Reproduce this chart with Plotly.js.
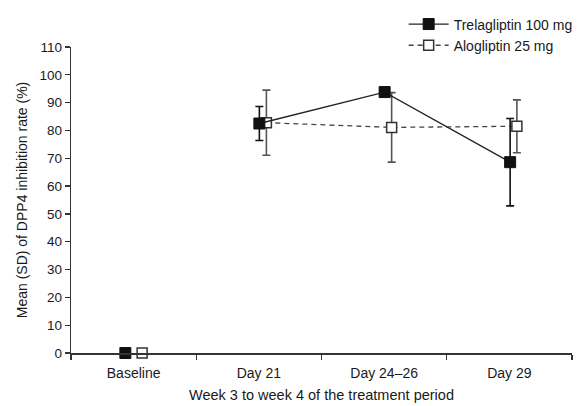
<!DOCTYPE html>
<html>
<head>
<meta charset="utf-8">
<script src="https://cdn.plot.ly/plotly-3.0.1.min.js"></script>
<style>html,body{margin:0;padding:0;background:#fff;}#chart{width:580px;height:406px;}</style>
</head>
<body>
<div id="chart"></div>
<script>
// ---- data ----
var categories = ["Baseline", "Day 21", "Day 24\u201326", "Day 29"];
var trelaName = "Trelagliptin 100 mg";
var trelaMean = [0, 82.5, 93.8, 68.6];
var trelaSD   = [0, 6.1, 1.5, 15.7];
var aloName = "Alogliptin 25 mg";
var aloMean = [0, 82.8, 81.1, 81.5];
var aloSD   = [0, 11.7, 12.5, 9.5];
var yTicks = [0, 10, 20, 30, 40, 50, 60, 70, 80, 90, 100, 110];

// ---- positions (style, not data) ----
var trelaOffset = [-0.066, 0.004, 0.004, 0.006];
var aloOffset   = [0.068, 0.06, 0.06, 0.06];
function xs(off, from) {
  var out = [];
  for (var i = from; i < categories.length; i++) out.push(i + off[i]);
  return out;
}

var font = "Liberation Sans, Arial, Helvetica, sans-serif";
var dark = "#1a1a1a";

var trelaMarker = {symbol: "square", size: 11, color: "#111", line: {color: "#111", width: 1}};
var aloMarker = {symbol: "square", size: 10, color: "#fff", line: {color: "#333", width: 1.5}};

var traces = [
  // baseline points (not connected)
  {x: [0 + trelaOffset[0]], y: [trelaMean[0]], type: "scatter", mode: "markers",
   marker: trelaMarker, showlegend: false, cliponaxis: false, hoverinfo: "skip"},
  {x: [0 + aloOffset[0]], y: [aloMean[0]], type: "scatter", mode: "markers",
   marker: aloMarker, showlegend: false, cliponaxis: false, hoverinfo: "skip"},
  // treatment period
  {x: xs(aloOffset, 1), y: aloMean.slice(1), name: aloName, type: "scatter", mode: "lines+markers",
   line: {color: "#444", width: 1.3, dash: "5px,4px"},
   marker: aloMarker, cliponaxis: false, legendrank: 2,
   error_y: {type: "data", array: aloSD.slice(1), visible: true, color: "#555", thickness: 1.6, width: 4}},
  {x: xs(trelaOffset, 1), y: trelaMean.slice(1), name: trelaName, type: "scatter", mode: "lines+markers",
   line: {color: "#222", width: 1.3},
   marker: trelaMarker, cliponaxis: false, legendrank: 1,
   error_y: {type: "data", array: trelaSD.slice(1), visible: true, color: "#111", thickness: 1.6, width: 4}}
];

var layout = {
  width: 580, height: 406,
  margin: {l: 71, r: 8, t: 47, b: 53, autoexpand: false},
  paper_bgcolor: "#fff", plot_bgcolor: "#fff",
  font: {family: font, size: 13, color: dark},
  showlegend: true,
  legend: {x: 0.664, y: 1.126, xanchor: "left", yanchor: "top",
           bgcolor: "rgba(0,0,0,0)", font: {size: 14, color: dark},
           tracegroupgap: 0, itemwidth: 40},
  xaxis: {
    range: [-0.5, 3.5], showgrid: false, zeroline: false,
    showline: true, linecolor: "#333", linewidth: 1.5,
    tickmode: "array", tickvals: [0, 1, 2, 3], ticktext: categories,
    ticks: "", ticklabelstandoff: 7,
    tickfont: {size: 14, color: dark},
    minor: {tickmode: "array", tickvals: [-0.5, 0.5, 1.5, 2.5, 3.5], ticks: "outside",
            ticklen: 5, tickwidth: 1.2, tickcolor: "#333", showgrid: false},
    title: {text: "Week 3 to week 4 of the treatment period", font: {size: 14.5, color: dark}, standoff: 9}
  },
  yaxis: {
    range: [0, 110], showgrid: false, zeroline: false,
    showline: true, linecolor: "#333", linewidth: 1.2,
    tickmode: "array", tickvals: yTicks,
    ticks: "outside", ticklen: 5, tickwidth: 1.2, tickcolor: "#333",
    tickfont: {size: 13.5, color: dark},
    title: {text: "Mean (SD) of DPP4 inhibition rate (%)", font: {size: 14, color: dark}, standoff: 8}
  }
};

Plotly.newPlot("chart", traces, layout, {staticPlot: true, displayModeBar: false});
</script>
</body>
</html>
